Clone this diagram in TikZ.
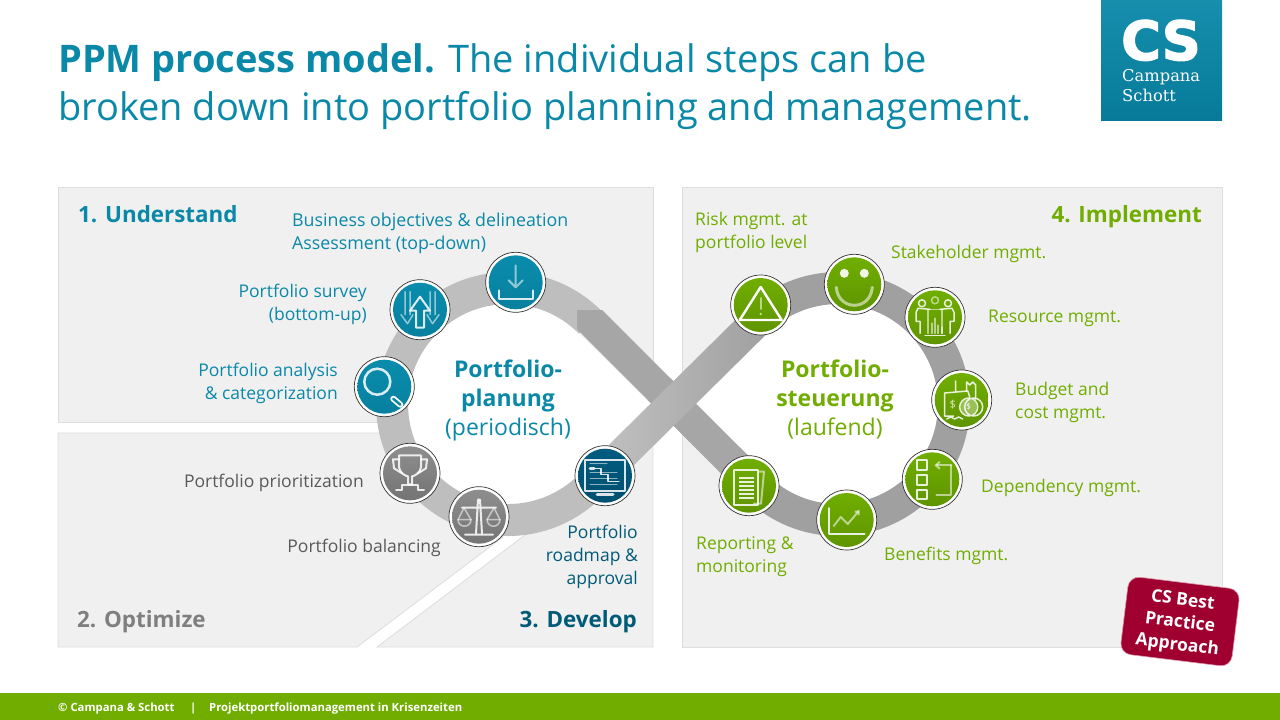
\documentclass[tikz,border=0pt]{standalone}
\usepackage{fontspec}
\setmainfont{Open Sans}
\newfontfamily\logofont{DejaVu Serif}
\newfontfamily\logoheavy[BoldFont={DejaVu Sans Bold},BoldFeatures={FakeBold=2.5}]{DejaVu Sans}
\usepackage{xcolor}
\usetikzlibrary{arrows.meta, positioning}
\definecolor{csteal}{HTML}{0A88A8}
\definecolor{csdeep}{HTML}{005A78}
\definecolor{csgreen}{HTML}{70AD00}
\definecolor{csgrey}{HTML}{595959}
\definecolor{csmid}{HTML}{7F7F7F}
\definecolor{panelfill}{HTML}{F0F0F0}
\definecolor{paneledge}{HTML}{DDDDDD}
\definecolor{bandlight}{HTML}{BEBEBE}
\definecolor{banddark}{HTML}{A0A0A0}
\definecolor{strikeband}{HTML}{A6A6A6}
\definecolor{badgered}{HTML}{A00030}
\tikzset{
  panel/.style={fill=panelfill, draw=paneledge, line width=0.8pt},
  lbl/.style={font=\fontsize{17.5}{23}\selectfont, inner sep=0pt},
  phase/.style={font=\fontsize{22.4}{26}\selectfont\bfseries, inner sep=0pt},
  hub/.style={font=\fontsize{23}{29}\selectfont, align=center, inner sep=0pt},
  foot/.style={anchor=base west, text=white, font=\fontsize{11.3}{12}\selectfont\bfseries, inner sep=0pt},
  iconring/.style={circle, minimum size=60pt, inner sep=0pt, fill=white, draw=black!80, line width=0.7pt},
  iconball/.style={circle, minimum size=54pt, inner sep=0pt},
  glyph/.style={draw=white, line width=2pt, opacity=0.85, line join=round, line cap=round},
  glyphsoft/.style={draw=white, line width=2pt, opacity=0.55, line join=round, line cap=round},
}
\begin{document}
\begin{tikzpicture}[x=1pt,y=-1pt]
\useasboundingbox (0,0) rectangle (1280,720);
% panels
\draw[panel] (58,187) rectangle (653,422);
\draw[panel] (58,433) -- (400,433) -- (503,537) -- (357,647) -- (58,647) -- cycle;
\draw[panel] (377,647) -- (525,535) -- (653,440) -- (653,647) -- cycle;
\draw[panel] (682,187) rectangle (1222,647);
% white inside of the two loops
\fill[white] (508,404) circle (100);
\fill[white] (838,404) circle (100);
\fill[white] (578.7,333.3) -- (651,404) -- (578.7,474.7) -- cycle;
\fill[white] (767.3,333.3) -- (695,404) -- (767.3,474.7) -- cycle;
% loop
\draw[bandlight, line width=32pt] (590,322) arc[start angle=-45, end angle=-315, radius=116];
\draw[banddark, line width=32pt] (756,322) arc[start angle=-135, end angle=135, radius=116];
\fill[strikeband] (577,310) -- (602,310) -- (767.3,474.7) -- (744.7,497.3) -- (577,329) -- cycle;
\shade[left color=bandlight!90!white, right color=banddark] (578.7,474.7) -- (744.7,310.7) -- (767.3,333.3) -- (601.3,497.3) -- cycle;
% icons
\foreach \name/\px/\py/\cola/\colb in {
  download/515.7/282.3/0A8CAC/08809F, survey/420/309.7/0A8CAC/08809F, analysis/384.3/386.7/0A8CAC/08809F,
  trophy/410/473.3/8E8E8E/747474, scales/479/516.7/8E8E8E/747474, roadmap/605/475.7/005B7F/005070,
  warning/760.7/305/70AE00/5F9400, smile/854.3/284.3/70AE00/5F9400, people/935/317.3/70AE00/5F9400,
  budget/961.7/400/70AE00/5F9400, depend/932.3/479.3/70AE00/5F9400, benefit/846.7/520/70AE00/5F9400,
  report/749/485.7/70AE00/5F9400}{
  \definecolor{cola}{HTML}{\cola}
  \definecolor{colb}{HTML}{\colb}
  \node[iconring] (\name) at (\px,\py) {};
  \node[iconball, top color=cola, bottom color=colb] (\name ball) at (\px,\py) {};
}
% download
\begin{scope}[shift={(download)}]
\draw[glyphsoft] (0,-17) -- (0,5) (-7,-2) -- (0,5) -- (7,-2);
\draw[glyph] (-17,8) -- (-17,17) -- (17,17) -- (17,8);
\end{scope}
% survey
\begin{scope}[shift={(survey)}]
\draw[glyphsoft, line width=1.5pt] (-15,-18) -- (-15,5) (-10,-18) -- (-10,5) (-19,5) -- (-12.5,14) -- (-7,5);
\draw[glyphsoft, line width=1.5pt] (15,-18) -- (15,5) (10,-18) -- (10,5) (19,5) -- (12.5,14) -- (7,5);
\draw[glyph] (0,-13) -- (-10,1) -- (-4,1) -- (-4,18) -- (4,18) -- (4,1) -- (10,1) -- cycle;
\end{scope}
% analysis
\begin{scope}[shift={(analysis)}]
\draw[glyph, line width=2.5pt] (-7,-5) circle (13);
\draw[white, line width=6pt, line cap=round] (9,12) -- (16,18);
\draw[csteal, line width=2.5pt, line cap=round] (9,12) -- (16,18);
\end{scope}
% trophy
\begin{scope}[shift={(trophy)}]
\draw[glyph] (-11,-18) -- (11,-18) -- (11,-6) .. controls (10,0) and (4,3) .. (2,3) -- (2,11) -- (-2,11) -- (-2,3) .. controls (-4,3) and (-10,0) .. (-11,-6) -- cycle;
\draw[glyph] (-11,-14) -- (-17,-14) -- (-16,-5) -- (-8,0) (11,-14) -- (17,-14) -- (16,-5) -- (8,0);
\draw[glyph] (-14,17) -- (-8,17) -- (-8,12) -- (8,12) -- (8,17) -- (14,17);
\end{scope}
% scales
\begin{scope}[shift={(scales)}]
\draw[glyph] (-14,18) -- (14,18) (-17,-9) -- (17,-9) (-3,17) -- (-1,-17) -- (1,-17) -- (3,17);
\draw[glyphsoft, line width=1.5pt] (-21,3) -- (-15,-9) -- (-8,3) (8,3) -- (15,-9) -- (21,3);
\draw[glyphsoft, line width=1.5pt] (-21,3) -- (-8,3) arc[start angle=0, end angle=180, radius=6.5];
\draw[glyphsoft, line width=1.5pt] (8,3) -- (21,3) arc[start angle=0, end angle=180, radius=6.5];
\end{scope}
% roadmap
\begin{scope}[shift={(roadmap)}]
\draw[glyph] (-20,-16) rectangle (20,15);
\draw[glyph, line width=3pt] (-8,19) -- (8,19) (-15,-7) -- (-11,-7);
\draw[glyphsoft, line width=1pt] (-15,-12) -- (2,-12) (-15,-3) -- (12,-3) (-15,3) -- (12,3) (-15,9) -- (12,9);
\draw[glyph, line width=1.2pt] (-11,-7) -- (-4,-7) -- (-4,-1) -- (3,-1) -- (3,6) -- (14,6);
\end{scope}
% warning
\begin{scope}[shift={(warning)}]
\draw[glyphsoft, draw opacity=1, line width=2.4pt] (0,-18) -- (-21,15) -- (21,15) -- cycle;
\draw[glyphsoft, line width=2pt] (0,-7) -- (0,4);
\fill[white, opacity=0.6] (0,9) circle (1.3);
\end{scope}
% smile
\begin{scope}[shift={(smile)}]
\fill[white, opacity=0.9] (-10,-11) circle (4.5) (10,-11) circle (4.5);
\draw[glyphsoft, line width=3pt] (-18,3) .. controls (-16,27) and (16,27) .. (18,3);
\end{scope}
% people
\begin{scope}[shift={(people)}]
\draw[glyph, line width=1.5pt] (-13,-14) circle (3.5) (13,-14) circle (3.5);
\draw[glyphsoft, line width=1.5pt] (0,-17) circle (3.5);
\draw[glyph, line width=1.5pt] (-5,-8) -- (-17,-9) -- (-19,-5) -- (-19,4) -- (-15,4) -- (-15,16) (5,-8) -- (17,-9) -- (19,-5) -- (19,4) -- (15,4) -- (15,16);
\draw[glyphsoft, line width=1.5pt] (-7,16) -- (-7,-8) -- (7,-8) -- (7,16);
\draw[glyph, line width=1.5pt] (-10,18) -- (10,18);
\draw[glyphsoft, line width=1.8pt] (-3,16) -- (-3,6) (0,16) -- (0,1) (3,16) -- (3,8) (7,16) -- (7,10);
\end{scope}
% budget
\begin{scope}[shift={(budget)}]
\draw[glyph, line width=1.5pt] (-8,16) -- (-17,16) -- (-17,-7) -- (6,-9) -- (8,-3);
\draw[glyph, line width=1.5pt] (-6,-9) -- (-6,-19) (5,-9) -- (5,-18) -- (8,-15) -- (11,-18) -- (14,-15) -- (14,-1);
\draw[glyph, line width=1.5pt] (-15,19) -- (-11,17) -- (-7,19) -- (-3,17) -- (1,19);
\fill[white, opacity=0.35] (7,7) circle (8);
\draw[glyph, line width=1.5pt] (7,7) circle (9) (12,7) circle (9);
\node[font=\fontsize{11}{11}\selectfont, text=white, inner sep=0pt, opacity=0.8] (budgetusda) at (-9,5) {\$};
\node[font=\fontsize{8}{8}\selectfont, text=white, inner sep=0pt] (budgetusdb) at (7,7) {\$};
\end{scope}
% dependency
\begin{scope}[shift={(depend)}]
\draw[glyph, line width=2.2pt] (-15,-19) rectangle (-5,-9) (-15,-4) rectangle (-5,6) (-15,11) rectangle (-5,20);
\draw[glyphsoft, -{Straight Barb[length=4pt,width=7pt]}] (19,-14) -- (2,-14);
\draw[glyphsoft] (19,-14) -- (19,16) -- (4,16);
\end{scope}
% benefits
\begin{scope}[shift={(benefit)}]
\draw[glyph] (-18,-12) -- (-18,14) -- (18,14);
\draw[glyphsoft, -{Straight Barb[length=3pt,width=5pt]}] (-13,6) -- (-6,-3) -- (1,4) -- (13,-10);
\end{scope}
% reporting
\begin{scope}[shift={(report)}]
\draw[glyphsoft] (10,-14) -- (15,-14) -- (12,18) -- (5,18);
\draw[glyph] (-15,-16) -- (9,-16) -- (9,19) -- (-15,19) -- cycle;
\foreach \yy in {-8,-4,0,4,8,12}{
\draw[white, opacity=0.85, line width=2.4pt] (-10,\yy) -- (5,\yy);
};
\end{scope}
% title
\node[anchor=base west, text=csteal, font=\fontsize{38}{48}\selectfont, inner sep=0pt, align=left] (title) at (58,120)
  {\textbf{PPM process model.} The individual steps can be\\broken down into portfolio planning and management.};
% logo
\shade[top color=csteal!95!white, bottom color=csteal!70!csdeep] (1101,0) rectangle (1222,120);
\node[anchor=base west, text=white, font=\logoheavy\fontsize{54}{54}\selectfont\bfseries, inner sep=0pt] (logocs) at (1121,60) {CS};
\node[anchor=base west, text=white, font=\logofont\fontsize{16.3}{20}\selectfont, inner sep=0pt, align=left] (logoname) at (1122,101) {Campana\\Schott};
% phase labels
\node[phase, anchor=base west, text=csteal] (understand) at (78,222) {1. Understand};
\node[phase, anchor=base west, text=csmid] (optimize) at (77,627) {2. Optimize};
\node[phase, anchor=base east, text=csdeep] (develop) at (637,627) {3. Develop};
\node[phase, anchor=base east, text=csgreen] (implement) at (1202,222) {4. Implement};
% hubs
\node[hub, text=csteal] (planhub) at (508,400) {\textbf{Portfolio-}\\\textbf{planung}\\(periodisch)};
\node[hub, text=csgreen] (ctrlhub) at (835,400) {\textbf{Portfolio-}\\\textbf{steuerung}\\(laufend)};
% step labels
\node[lbl, anchor=west, align=left, text=csteal, font=\fontsize{17.8}{23}\selectfont] (objectives) at (292,233) {Business objectives \& delineation\\Assessment (top-down)};
\node[lbl, anchor=east, align=right, text=csteal] (surveytxt) at (367,304) {Portfolio survey\\(bottom-up)};
\node[lbl, anchor=east, align=right, text=csteal] (analysistxt) at (338,383) {Portfolio analysis\\\& categorization};
\node[lbl, anchor=east, text=csgrey] (prioritytxt) at (364,483) {Portfolio prioritization};
\node[lbl, anchor=east, text=csgrey] (balancetxt) at (441,548) {Portfolio balancing};
\node[lbl, anchor=east, align=right, text=csdeep] (roadmaptxt) at (638,557) {Portfolio\\roadmap \&\\approval};
\node[lbl, anchor=west, align=left, text=csgreen] (risktxt) at (695,232) {Risk mgmt. at\\portfolio level};
\node[lbl, anchor=west, text=csgreen] (stakeholdertxt) at (891,254) {Stakeholder mgmt.};
\node[lbl, anchor=west, text=csgreen] (resourcetxt) at (988,318) {Resource mgmt.};
\node[lbl, anchor=west, align=left, text=csgreen] (budgettxt) at (1015,402) {Budget and\\cost mgmt.};
\node[lbl, anchor=west, text=csgreen] (dependtxt) at (981,488) {Dependency mgmt.};
\node[lbl, anchor=west, text=csgreen] (benefittxt) at (884,556) {Benefits mgmt.};
\node[lbl, anchor=west, align=left, text=csgreen] (reporttxt) at (696,557) {Reporting \&\\monitoring};
% badge
\node[fill=badgered, draw=badgered!40!white, line width=0.6pt, rounded corners=11pt, minimum width=112pt, minimum height=78pt, rotate=-7, inner sep=0pt] (badge) at (1180,621.5) {};
\node[rotate=-7, text=white, align=center, inner sep=0pt, font=\fontsize{17.5}{22.5}\selectfont\bfseries] (badgetxt) at (1180,623.5) {CS Best\\Practice\\Approach};
% footer
\fill[csgreen] (0,693) rectangle (1280,720);
\node[foot] (copyright) at (58,711) {© Campana \& Schott};
\node[foot] (footbar) at (190,711) {|};
\node[foot] (foottitle) at (209,711) {Projektportfoliomanagement in Krisenzeiten};
\end{tikzpicture}
\end{document}
